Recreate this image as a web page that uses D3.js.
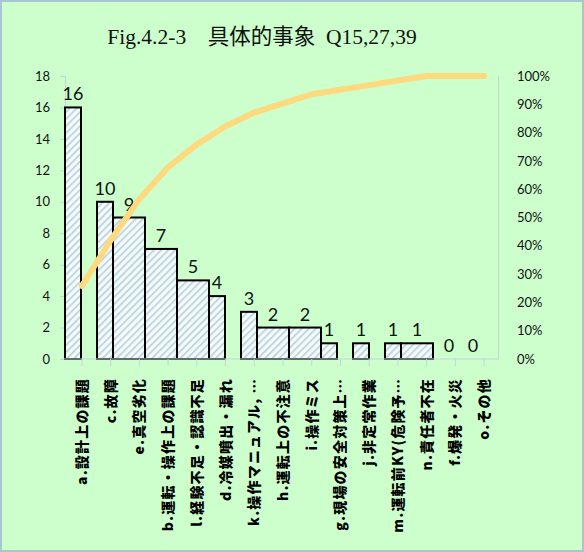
<!DOCTYPE html>
<html>
<head>
<meta charset="utf-8">
<script src="https://cdn.jsdelivr.net/npm/d3@7"></script>
<style>
  body { margin: 0; background: #fff; }
  svg { display: block; }
</style>
</head>
<body>
<div id="chart"></div>
<script>
// data
var categories = ['a.設計上の課題', 'c.故障', 'e.真空劣化', 'b.運転・操作上の課題', 'l.経験不足・認識不足',
  'd.冷媒噴出・漏れ', 'k.操作マニュアル, …', 'h.運転上の不注意', 'i.操作ミス', 'g.現場の安全対策上…',
  'j.非定常作業', 'm.運転前KY(危険予…', 'n.責任者不在', 'f.爆発・火災', 'o.その他'];
var counts = [16, 10, 9, 7, 5, 4, 3, 2, 2, 1, 1, 1, 1, 0, 0];
var countTicks = [0, 2, 4, 6, 8, 10, 12, 14, 16, 18];
var pctTicks = [0, 0.1, 0.2, 0.3, 0.4, 0.5, 0.6, 0.7, 0.8, 0.9, 1];
var title = 'Fig.4.2-3\u3000具体的事象  Q15,27,39';

var width = 584, height = 552;
var plot = {left: 65, right: 498, top: 76, bottom: 359};
var numFont = 'Lato, "Open Sans", sans-serif',
  cjkFont = '"Noto Sans CJK JP", sans-serif';

var svg = d3.select('#chart').append('svg')
  .attr('width', width)
  .attr('height', height);

// hatch fill for the bars
var pat = svg.append('defs').append('pattern')
  .attr('id', 'hatch')
  .attr('patternUnits', 'userSpaceOnUse')
  .attr('width', 5).attr('height', 5)
  .attr('patternTransform', 'rotate(45)');
pat.append('rect').attr('width', 5).attr('height', 5).attr('fill', '#f6fafb');
pat.append('rect').attr('width', 1.6).attr('height', 5).attr('fill', '#b4d2dc');

svg.append('rect') // background + frame
  .attr('x', 1).attr('y', 1)
  .attr('width', width - 2).attr('height', height - 2)
  .attr('fill', '#ccffcc')
  .attr('stroke', '#a9c6d3')
  .attr('stroke-width', 2);

svg.append('text')
  .attr('x', 262).attr('y', 44)
  .attr('text-anchor', 'middle')
  .attr('font-family', '"Liberation Serif", "Noto Sans CJK JP", serif')
  .attr('font-size', 21.5)
  .style('white-space', 'pre')
  .attr('fill', '#111')
  .text(title);

var x = d3.scaleBand()
  .domain(categories)
  .range([67.5, 498.5])
  .padding(0);

var y = d3.scaleLinear()
  .domain([0, 18])
  .range([plot.bottom, plot.top]);

var yPct = d3.scaleLinear()
  .domain([0, 1])
  .range([plot.bottom, plot.top]);

// the source raster puts bar edges on a coarse 16px grid
function snapLeft(px) { return plot.left + 16 * Math.floor((px - plot.left) / 16 + 0.15); }
function snapRight(px) { return plot.left + 16 * Math.floor((px - plot.left) / 16 - 0.12); }

var data = categories.map(function(c, i) {
  var x0 = snapLeft(x(c)), x1 = snapRight(x(c) + x.bandwidth());
  return {cat: c, n: counts[i], x0: x0, x1: x1};
});

var total = d3.sum(counts), run = 0;
data.forEach(function(d) { run += d.n; d.cum = run / total; });

var axisColor = '#c4d4dc';

// left axis
var yAxis = svg.append('g')
  .attr('transform', 'translate(' + plot.left + ',0)')
  .call(d3.axisLeft(y).tickValues(countTicks).tickSize(5).tickPadding(10));
yAxis.select('.domain').attr('stroke', axisColor);
yAxis.selectAll('.tick line').attr('stroke', axisColor);
yAxis.selectAll('.tick text')
  .attr('font-family', numFont).attr('font-size', 13).attr('fill', '#111');

// right axis
var rAxis = svg.append('g')
  .attr('transform', 'translate(' + plot.right + ',0)')
  .call(d3.axisRight(yPct).tickValues(pctTicks).tickSize(0).tickPadding(19).tickFormat(d3.format('.0%')));
rAxis.select('.domain').attr('stroke', axisColor);
rAxis.selectAll('.tick text')
  .attr('font-family', numFont).attr('font-size', 13).attr('fill', '#111');

// bars
svg.selectAll('rect.bar')
  .data(data.filter(function(d) { return d.n > 0; }))
  .enter().append('rect')
  .attr('class', 'bar')
  .attr('x', function(d) { return d.x0; })
  .attr('y', function(d) { return y(d.n); })
  .attr('width', function(d) { return d.x1 - d.x0; })
  .attr('height', function(d) { return y(0) - y(d.n); })
  .attr('fill', 'url(#hatch)')
  .attr('stroke', '#000')
  .attr('stroke-width', 2);

// bottom axis
var xAxis = svg.append('g')
  .attr('transform', 'translate(0,' + plot.bottom + ')')
  .call(d3.axisBottom(x).tickSize(7).tickFormat(''));
xAxis.select('.domain').attr('stroke', axisColor)
  .attr('d', 'M' + (plot.left - 3) + ',0H' + plot.right);
xAxis.selectAll('.tick line').attr('stroke', axisColor);

// value labels
svg.selectAll('text.val')
  .data(data)
  .enter().append('text')
  .attr('class', 'val')
  .attr('x', function(d) { return (d.x0 + d.x1) / 2; })
  .attr('y', function(d) { return y(d.n) - 7; })
  .attr('text-anchor', 'middle')
  .attr('font-family', numFont)
  .attr('font-size', 18)
  .attr('fill', '#111')
  .text(function(d) { return d.n; });

// cumulative share line
svg.append('path')
  .datum(data)
  .attr('fill', 'none')
  .attr('stroke', '#fdd97f')
  .attr('stroke-width', 6)
  .attr('stroke-linecap', 'round')
  .attr('stroke-linejoin', 'round')
  .attr('d', d3.line()
    .x(function(d) { return x(d.cat) + x.bandwidth() / 2; })
    .y(function(d) { return yPct(d.cum); }));

// category labels, rotated
svg.selectAll('text.cat')
  .data(data)
  .enter().append('text')
  .attr('class', 'cat')
  .attr('transform', function(d) {
    return 'translate(' + (x(d.cat) + x.bandwidth() / 2 + 5) + ',378) rotate(-90)';
  })
  .attr('text-anchor', 'end')
  .attr('font-family', cjkFont)
  .attr('font-weight', 900)
  .attr('font-size', 14)
  .attr('letter-spacing', 1.2)
  .attr('fill', '#000')
  .text(function(d) { return d.cat; });
</script>
</body>
</html>
